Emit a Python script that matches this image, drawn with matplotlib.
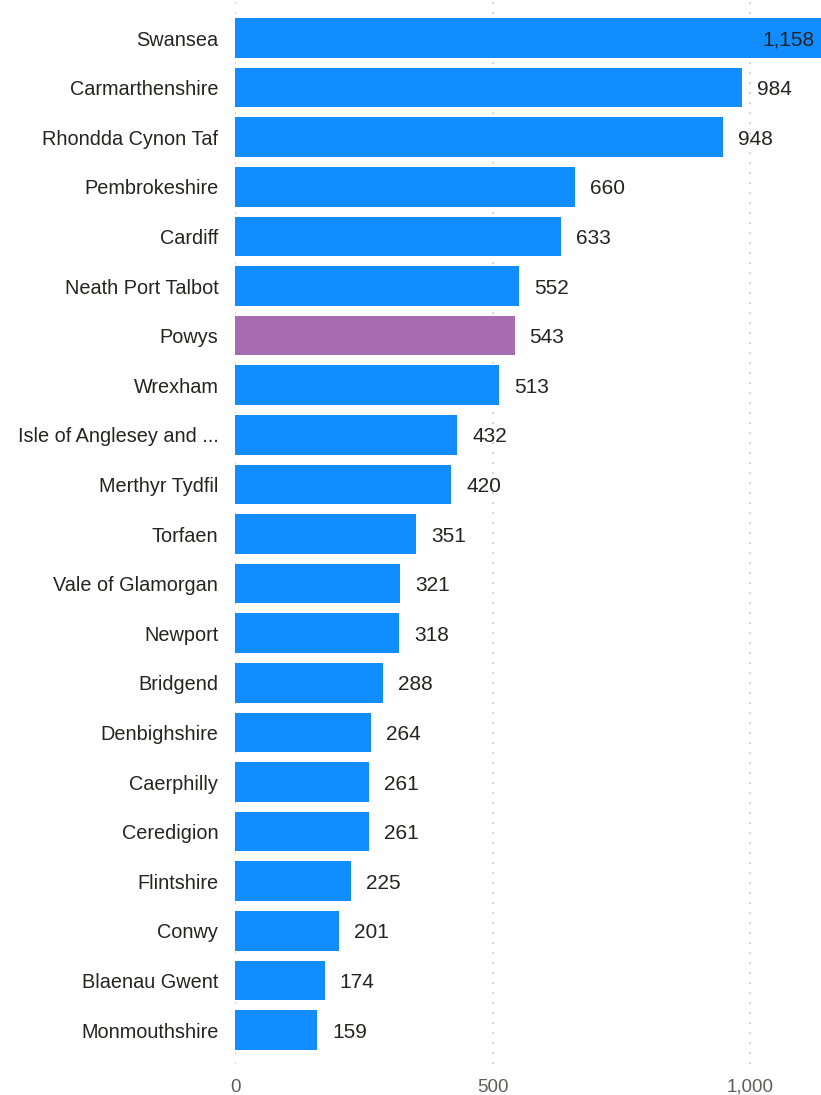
import matplotlib.pyplot as plt
from matplotlib.ticker import FuncFormatter

# data
areas = ["Swansea", "Carmarthenshire", "Rhondda Cynon Taf", "Pembrokeshire", "Cardiff",
         "Neath Port Talbot", "Powys", "Wrexham", "Isle of Anglesey and ...",
         "Merthyr Tydfil", "Torfaen", "Vale of Glamorgan", "Newport", "Bridgend",
         "Denbighshire", "Caerphilly", "Ceredigion", "Flintshire", "Conwy",
         "Blaenau Gwent", "Monmouthshire"]
values = [1158, 984, 948, 660, 633, 552, 543, 513, 432, 420, 351, 321, 318, 288,
          264, 261, 261, 225, 201, 174, 159]
highlight = "Powys"

blue = "#118DFF"
purple = "#A66BB0"

plt.rcParams['font.family'] = ['Liberation Sans', 'DejaVu Sans']

fig = plt.figure(figsize=(8.21, 10.95), dpi=100)
W, H = 821, 1095
ax_bottom_px = 1064
ax = fig.add_axes([235 / W, 1 - ax_bottom_px / H, (W - 235) / W, ax_bottom_px / H])

px_per_unit = 0.515
xmax = (W - 235) / px_per_unit
row_px = 49.6
ytop = -38 / row_px
ybot = (ax_bottom_px - 38) / row_px

pos = list(range(len(areas)))
colors = [purple if a == highlight else blue for a in areas]
ax.barh(pos, values, height=0.8, color=colors, zorder=2)

# value labels (the top bar runs past the edge, so its label sits inside)
for y, v in zip(pos, values):
    txt = f"{v:,}"
    if v > xmax * 0.95:
        ax.text(xmax - 6 / px_per_unit, y, txt, ha='right', va='center_baseline',
                fontsize=15, color='#252423', zorder=3)
    else:
        ax.text(v + 15 / px_per_unit, y, txt, ha='left', va='center_baseline',
                fontsize=15, color='#252423', zorder=3)

ax.set_xlim(0, xmax)
ax.set_ylim(ybot, ytop)
ax.set_yticks(pos)
ax.set_yticklabels(areas, fontsize=14.3, color='#252423')
ax.set_xticks([0, 500, 1000])
ax.xaxis.set_major_formatter(FuncFormatter(lambda x, p: f"{int(x):,}"))
ax.tick_params(axis='x', colors='#605E5C', labelsize=13.5, length=0, pad=20)
for lbl in ax.get_xticklabels():
    lbl.set_verticalalignment('baseline')
ax.tick_params(axis='y', length=0, pad=12)
ax.grid(axis='x', color='#C8C6C4', linestyle=(0, (1, 5)), linewidth=1.2, zorder=0)
for s in ax.spines.values():
    s.set_visible(False)

fig.savefig("out.png", dpi=100)
